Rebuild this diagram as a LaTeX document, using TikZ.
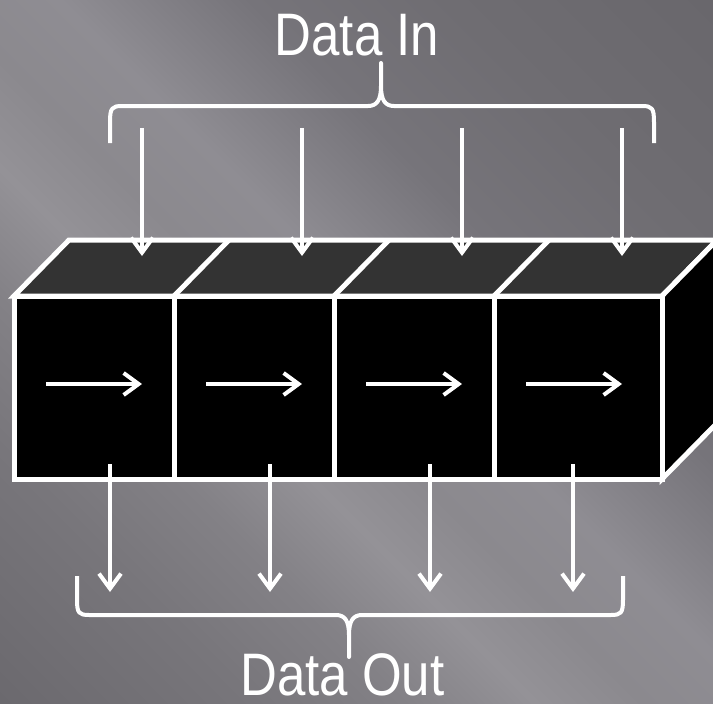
\documentclass[tikz,border=0pt]{standalone}
\usepackage{fontspec}
\newfontfamily\lblfont{Liberation Sans}[FakeStretch=0.85]
\usetikzlibrary{arrows.meta}

% slate background tones, dark corners and a lighter diagonal sheen
\definecolor{bgA}{HTML}{6B696E}
\definecolor{bgB}{HTML}{78767B}
\definecolor{bgC}{HTML}{838186}
\definecolor{bgD}{HTML}{949297}
\definecolor{bgE}{HTML}{8B898E}
\definecolor{bgF}{HTML}{8F8D93}
\definecolor{bgG}{HTML}{838187}
\definecolor{bgH}{HTML}{76747A}
\definecolor{bgI}{HTML}{6F6D72}
\definecolor{bgJ}{HTML}{69676C}
\definecolor{topgray}{HTML}{333333}

\pgfdeclarehorizontalshading{slate}{100bp}{%
  color(0bp)=(bgA); color(14.6bp)=(bgA); color(27.3bp)=(bgB);
  color(34.8bp)=(bgC); color(41.3bp)=(bgD); color(46.8bp)=(bgE);
  color(52.8bp)=(bgF); color(57.3bp)=(bgG); color(62.3bp)=(bgH);
  color(72.2bp)=(bgI); color(85.4bp)=(bgJ); color(100bp)=(bgJ)}

\tikzset{
  face/.style={draw=white, line width=5pt, line join=miter},
  front/.style={draw=white, fill=black, line width=5pt, line join=miter,
    minimum height=183pt, inner sep=0pt, outer sep=0pt},
  flow/.style={draw=white, line width=4pt,
    -{Straight Barb[length=15pt,width=22pt]}},
  brace/.style={draw=white, line width=4pt, line join=round},
  lbl/.style={text=white, inner sep=0pt,
    font=\lblfont\fontsize{60}{60}\selectfont}
}

\begin{document}
\begin{tikzpicture}[x=1pt,y=1pt]
\useasboundingbox (0,0) rectangle (713,-704);
\clip (0,0) rectangle (713,-704);
\shade[shading=slate, shading angle=45] (0,0) rectangle (713,-704);

% top and right faces of the register block
\filldraw[face, fill=topgray] (14,-296) -- (69,-240) -- (717,-240) -- (662,-296) -- cycle;
\foreach \x in {174,334,494}
  \draw[face] (\x,-296) -- ++(55,56);
\filldraw[face, fill=black] (662,-296) -- (717,-240) -- (717,-423) -- (662,-479) -- cycle;

% front faces, one per cell
\node[front, minimum width=160pt] (b1) at (94,-387.5) {};
\node[front, minimum width=160pt] (b2) at (254,-387.5) {};
\node[front, minimum width=160pt] (b3) at (414,-387.5) {};
\node[front, minimum width=168pt] (b4) at (578,-387.5) {};

% shift direction inside each cell
\foreach \i in {1,...,4}
  \draw[flow] ([xshift=32pt,yshift=3.5pt]b\i.west) -- ([xshift=128pt,yshift=3.5pt]b\i.west);

% parallel inputs
\foreach \i/\x in {1/142,2/302,3/462,4/622}{
  \coordinate (in\i) at (\x,-128);
  \coordinate (top\i) at (\x,-256);
  \draw[flow] (in\i) -- (top\i);
}

% parallel outputs
\foreach \i/\dx in {1/96,2/96,3/96,4/79}{
  \coordinate (out\i) at ([xshift=\dx pt,yshift=-113pt]b\i.south west);
  \draw[flow] ([xshift=\dx pt,yshift=15pt]b\i.south west) -- (out\i);
}

% braces
\draw[brace] (110,-143) -- (110,-122) .. controls (110,-108) and (112,-106) .. (122,-106)
  -- (368,-106) .. controls (377,-106) and (381,-100) .. (381,-86) -- (381,-63)
  -- (381,-86) .. controls (381,-100) and (385,-106) .. (394,-106)
  -- (642,-106) .. controls (652,-106) and (654,-108) .. (654,-122) -- (654,-143);
\draw[brace] (77,-576) -- (77,-600) .. controls (77,-613) and (79,-615) .. (89,-615)
  -- (336,-615) .. controls (345,-615) and (349,-621) .. (349,-635) -- (349,-657)
  -- (349,-635) .. controls (349,-621) and (353,-615) .. (362,-615)
  -- (611,-615) .. controls (621,-615) and (623,-613) .. (623,-600) -- (623,-576);

% labels
\node[lbl, anchor=base] (din) at (357,-56) {Data In};
\node[lbl, anchor=base] (dout) at (342.5,-695) {Data Out};
\end{tikzpicture}
\end{document}
